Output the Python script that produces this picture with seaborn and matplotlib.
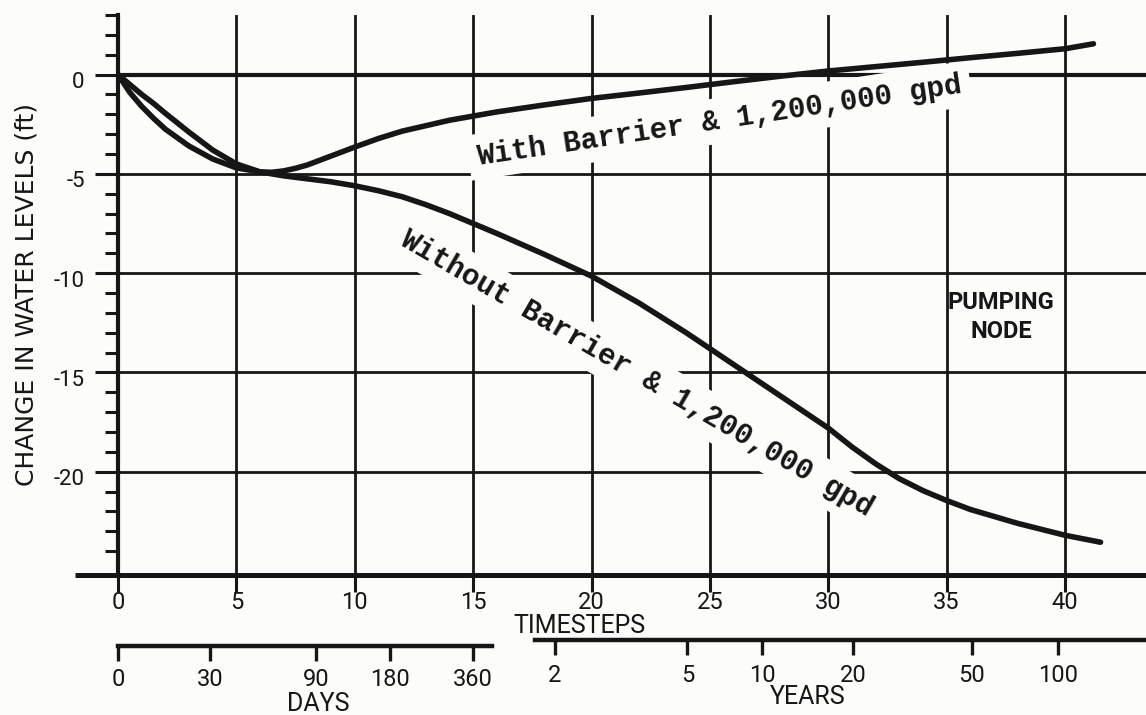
import numpy as np
import pandas as pd
import matplotlib
matplotlib.use("Agg")
import matplotlib.pyplot as plt
import matplotlib.transforms as mtransforms
import seaborn as sns

# ---- data -------------------------------------------------------------
timesteps_with = [0, 0.5, 1, 1.5, 2, 3, 4, 5, 6, 6.5, 7, 7.5, 8, 9, 10, 11,
                  12, 14, 16, 18, 20, 22, 24, 26, 28, 30, 32, 34, 36, 38, 40,
                  41.2]
with_barrier = [0, -0.9, -1.6, -2.2, -2.75, -3.6, -4.25, -4.7, -4.9, -4.92,
                -4.85, -4.72, -4.55, -4.1, -3.65, -3.22, -2.85, -2.3, -1.88,
                -1.53, -1.2, -0.93, -0.65, -0.36, -0.08, 0.18, 0.4, 0.62,
                0.85, 1.07, 1.3, 1.55]

timesteps_without = [0, 0.5, 1, 1.5, 2, 3, 4, 5, 6, 7, 8, 9, 10, 11, 12, 13,
                     14, 15, 16, 18, 20, 22, 24, 26, 28, 30, 31, 32, 33, 34,
                     35, 36, 38, 40, 41.5]
without_barrier = [0, -0.5, -1.0, -1.45, -1.95, -2.9, -3.8, -4.5, -4.9, -5.1,
                   -5.25, -5.4, -5.6, -5.85, -6.15, -6.55, -7.0, -7.5, -8.0,
                   -9.05, -10.15, -11.5, -13.0, -14.6, -16.2, -17.8, -18.75,
                   -19.6, -20.35, -20.95, -21.45, -21.9, -22.6, -23.2, -23.55]

scenario_labels = ["With Barrier & 1,200,000 gpd",
                   "Without Barrier & 1,200,000 gpd"]

timestep_ticks = [0, 5, 10, 15, 20, 25, 30, 35, 40]
level_ticks = [0, -5, -10, -15, -20]
level_tick_labels = ["0", "-5", "-10", "-15", "-20"]

# elapsed time expressed on the timestep scale
day_labels = ["0", "30", "90", "180", "360"]
day_timesteps = [0, 3.9, 8.35, 11.5, 15.0]
year_labels = ["2", "5", "10", "20", "50", "100"]
year_timesteps = [18.45, 24.05, 27.2, 31.05, 36.05, 39.7]

# ---- style ------------------------------------------------------------
sns.set_style("white")
plt.rcParams["font.family"] = ["Roboto", "DejaVu Sans"]
INK = "#161616"
PAPER = "#fcfcfa"

W, H = 1146, 715
fig = plt.figure(figsize=(W / 100, H / 100), dpi=100, facecolor=PAPER)

ax_left, ax_right, ax_top, ax_bottom = 118, 1146, 15, 575
ax = fig.add_axes([ax_left / W, (H - ax_bottom) / H,
                   (ax_right - ax_left) / W, (ax_bottom - ax_top) / H])
ax.set_facecolor(PAPER)
XMAX = 43.42
YMIN, YMAX = -25.2, 3.0
ax.set_xlim(0, XMAX)
ax.set_ylim(YMIN, YMAX)

df = pd.concat([
    pd.DataFrame({"timestep": timesteps_with, "change": with_barrier,
                  "scenario": scenario_labels[0]}),
    pd.DataFrame({"timestep": timesteps_without, "change": without_barrier,
                  "scenario": scenario_labels[1]}),
])

# grid
ax.grid(True, which="major", axis="both", color=INK, linewidth=2.0)
ax.set_axisbelow(True)
ax.axhline(0, color=INK, linewidth=3.0, zorder=1.5)

sns.lineplot(data=df, x="timestep", y="change", hue="scenario",
             palette=[INK, INK], linewidth=4.0, estimator=None, sort=False,
             legend=False, ax=ax, zorder=4, solid_capstyle="round",
             solid_joinstyle="round")

sns.despine(ax=ax, top=True, right=True)
ax.spines["left"].set_linewidth(3.0)
ax.spines["bottom"].set_linewidth(3.6)
ax.spines["left"].set_color(INK)
ax.spines["bottom"].set_color(INK)
# bottom axis line runs a little past the origin on the left
ax.plot([-1.82, 0], [YMIN, YMIN], color=INK, linewidth=3.6, clip_on=False,
        solid_capstyle="butt")

ax.set_xticks(timestep_ticks)
ax.set_xticklabels([str(t) for t in timestep_ticks])
ax.set_yticks(level_ticks)
ax.set_yticklabels(level_tick_labels)
ax.set_yticks(range(-24, 4), minor=True)
ax.tick_params(axis="x", which="major", bottom=True, direction="out",
               length=12, width=2.2, color=INK, pad=-0.5, labelsize=17,
               labelcolor=INK)
ax.tick_params(axis="y", which="major", left=True, direction="out",
               length=16.5, width=2.2, color=INK, pad=7.5, labelsize=16,
               labelcolor=INK)
ax.tick_params(axis="y", which="minor", left=True, direction="out",
               length=9.5, width=2.2, color=INK)
shift_down = mtransforms.ScaledTranslation(0, -4 / 72, fig.dpi_scale_trans)
for lab in ax.get_yticklabels():
    lab.set_transform(lab.get_transform() + shift_down)

ax.set_xlabel("TIMESTEPS", fontsize=18, color=INK)
ax.xaxis.label.set_va("center")
ax.xaxis.set_label_coords((579 - ax_left) / (ax_right - ax_left),
                          (ax_bottom - 626) / (ax_bottom - ax_top))
ax.set_ylabel("CHANGE IN WATER LEVELS (ft)", fontsize=18, color=INK,
              family=["DejaVu Sans"])
ax.yaxis.label.set_va("center")
ax.yaxis.set_label_coords((27 - ax_left) / (ax_right - ax_left), 0.5)

# typed curve labels
label_box = dict(boxstyle="square,pad=0.3", facecolor=PAPER, edgecolor="none")
ax.text(25.4, -2.32, scenario_labels[0], rotation=8.5, rotation_mode="anchor",
        ha="center", va="center", family=["Liberation Mono", "DejaVu Sans Mono"],
        fontweight="bold", fontsize=21, color=INK, bbox=label_box, zorder=3)
ax.text(21.9, -15.05, scenario_labels[1], rotation=-30.2,
        rotation_mode="anchor", ha="center", va="center",
        family=["Liberation Mono", "DejaVu Sans Mono"], fontweight="bold",
        fontsize=21, color=INK, bbox=label_box, zorder=3)

ax.text(37.3, -12.2, "PUMPING\nNODE", ha="center", va="center",
        multialignment="center", fontsize=17, fontweight="bold",
        linespacing=1.3, color=INK, zorder=3)


def time_scale(y_px, lo, hi, positions, labels, pad):
    sax = fig.add_axes([ax_left / W, (H - y_px) / H,
                        (ax_right - ax_left) / W, 0.0001])
    sax.patch.set_visible(False)
    sax.set_xlim(0, XMAX)
    for side in ("left", "right", "top"):
        sax.spines[side].set_visible(False)
    sax.spines["bottom"].set_bounds(lo, hi)
    sax.spines["bottom"].set_linewidth(3.2)
    sax.spines["bottom"].set_color(INK)
    sax.set_yticks([])
    sax.set_xticks(positions)
    sax.set_xticklabels(labels)
    sax.tick_params(axis="x", bottom=True, direction="out", length=11,
                    width=2.4, color=INK, pad=pad, labelsize=17,
                    labelcolor=INK)
    return sax


time_scale(646, 0, 15.8, day_timesteps, day_labels, 5)
time_scale(640, 17.6, XMAX, year_timesteps, year_labels, 6)

fig.text(318 / W, 1 - 704 / H, "DAYS", ha="center", va="center",
         fontsize=18, color=INK)
fig.text(808 / W, 1 - 697 / H, "YEARS", ha="center", va="center",
         fontsize=18, color=INK)

fig.savefig("out.png", dpi=100, facecolor=PAPER)
